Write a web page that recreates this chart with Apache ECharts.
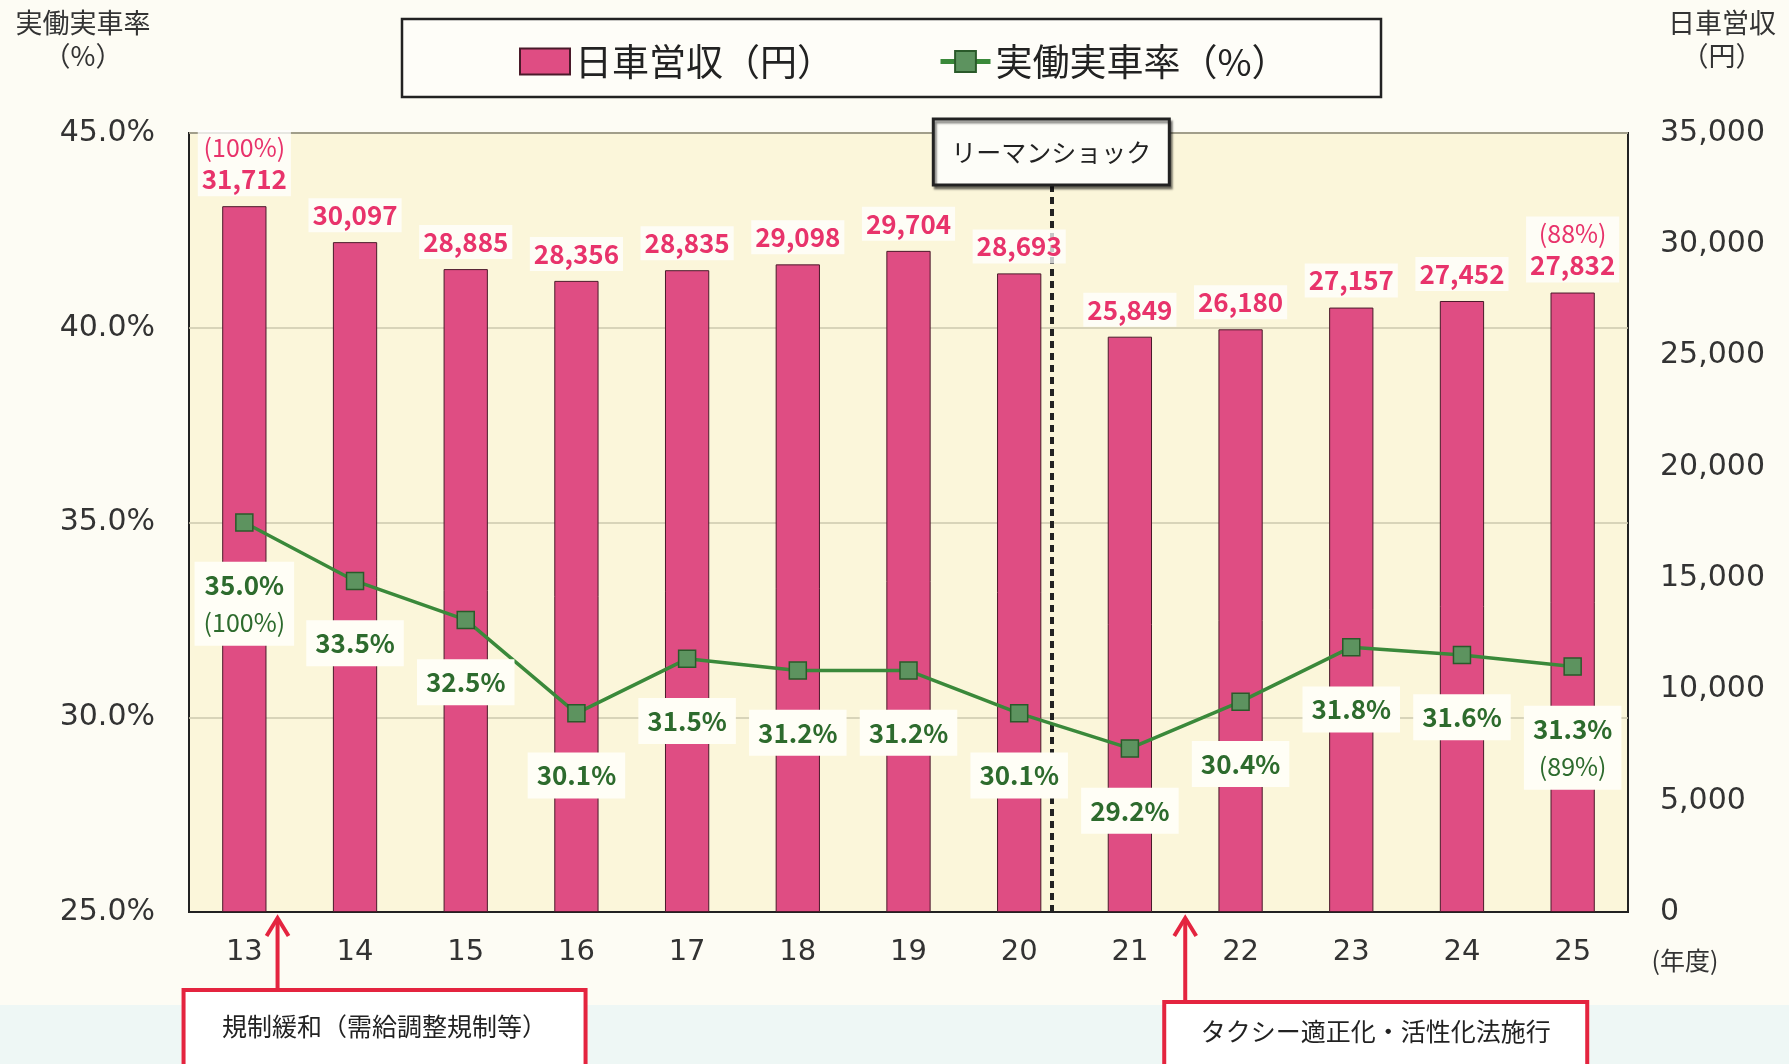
<!DOCTYPE html>
<html><head><meta charset="utf-8">
<script src="https://cdn.jsdelivr.net/npm/echarts@6/dist/echarts.min.js"></script>
<style>html,body{margin:0;padding:0;background:#fdfcf4;}#c{width:1789px;height:1064px;}</style>
</head><body><div id="c"></div>
<script>
// ---- data ----
const years = ['13','14','15','16','17','18','19','20','21','22','23','24','25'];
const revenue = [31712, 30097, 28885, 28356, 28835, 29098, 29704, 28693, 25849, 26180, 27157, 27452, 27832];
const revenueNotes = ['(100%)', '', '', '', '', '', '', '', '', '', '', '', '(88%)'];
const occupancy = [35.0, 33.5, 32.5, 30.1, 31.5, 31.2, 31.2, 30.1, 29.2, 30.4, 31.8, 31.6, 31.3];
const occupancyNotes = ['(100%)', '', '', '', '', '', '', '', '', '', '', '', '(89%)'];
const leftTicks = {min: 25, max: 45, interval: 5};
const rightTicks = {min: 0, max: 35000, interval: 5000};
const seriesNames = ['日車営収（円）', '実働実車率（%）'];
const leftTitle = '実働実車率\n（%）';
const rightTitle = '日車営収\n（円）';
const xUnit = '(年度)';
const lehmanLabel = 'リーマンショック';
const lehmanAt = 7.79;           // position on category index scale (0..13)
const notes = [
  {text: '規制緩和（需給調整規制等）', at: 0.8},
  {text: 'タクシー適正化・活性化法施行', at: 9.0}
];

const FONT = '"Noto Sans CJK JP", "Noto Sans", sans-serif';
const NUMFONT = '"DejaVu Sans", sans-serif';
const PINK = '#e8336b';
const GREEN = '#2d6b2d';

const chart = echarts.init(document.getElementById('c'), null, {renderer: 'canvas'});

const option = {
  backgroundColor: '#fdfcf4',
  textStyle: {fontFamily: FONT},
  animation: false,
  grid: {left: 189, right: 161, top: 133, bottom: 152, show: true,
         backgroundColor: '#fbf6da', borderColor: '#222', borderWidth: 2},
  legend: {
    data: [{name: seriesNames[0], icon: 'rect'}, {name: seriesNames[1], lineStyle: {width: 5}}],
    left: 514, top: 38, itemWidth: 50, itemHeight: 26, itemGap: 104,
    textStyle: {fontSize: 37, color: '#222', fontFamily: FONT}
  },
  xAxis: [{
    type: 'category', data: years,
    axisLine: {lineStyle: {color: '#222', width: 2}},
    axisTick: {inside: true, length: 7, lineStyle: {color: '#222', width: 1.5}},
    axisLabel: {fontSize: 29, color: '#333', margin: 26, fontFamily: NUMFONT}
  }, {
    type: 'value', min: 0, max: years.length, show: false
  }],
  yAxis: [{
    type: 'value', min: leftTicks.min, max: leftTicks.max, interval: leftTicks.interval,
    axisLine: {show: false}, axisTick: {show: false},
    axisLabel: {fontSize: 30, color: '#333', margin: 34, formatter: v => v.toFixed(1) + '%', fontFamily: NUMFONT},
    splitLine: {lineStyle: {color: '#cdc8ae', width: 1.5}}
  }, {
    type: 'value', min: rightTicks.min, max: rightTicks.max, interval: rightTicks.interval,
    axisLine: {show: false}, axisTick: {show: false}, splitLine: {show: false},
    axisLabel: {fontSize: 30, color: '#333', margin: 32, formatter: v => v.toLocaleString('en-US'), fontFamily: NUMFONT}
  }],
  series: [{
    name: seriesNames[0], type: 'bar', yAxisIndex: 1, barWidth: '40%', z: 3,
    data: revenue,
    itemStyle: {color: '#df4d83', borderColor: '#4a1a2a', borderWidth: 1},
    label: {
      show: true, position: 'top', distance: 10,
      backgroundColor: 'rgba(255,255,255,0.75)', padding: [1, 4],
      formatter: p => (revenueNotes[p.dataIndex] ? '{n|' + revenueNotes[p.dataIndex] + '}\n' : '') + '{v|' + p.value.toLocaleString('en-US') + '}',
      rich: {
        v: {fontSize: 26, fontWeight: 'bold', color: PINK, fontFamily: FONT, lineHeight: 32},
        n: {fontSize: 25, color: PINK, fontFamily: FONT, lineHeight: 32}
      }
    }
  }, {
    name: seriesNames[1], type: 'line', yAxisIndex: 0,
    data: occupancy,
    lineStyle: {color: '#3a893a', width: 3.5},
    symbol: 'rect', symbolSize: 17,
    itemStyle: {color: '#5d935f', borderColor: '#2a5a2a', borderWidth: 1.5},
    label: {
      show: true, position: 'bottom', distance: 30,
      backgroundColor: '#fffef6', padding: [4, 9],
      formatter: p => '{v|' + p.value.toFixed(1) + '%}' + (occupancyNotes[p.dataIndex] ? '\n{n|' + occupancyNotes[p.dataIndex] + '}' : ''),
      rich: {
        v: {fontSize: 26, fontWeight: 'bold', color: GREEN, fontFamily: FONT, lineHeight: 38},
        n: {fontSize: 25, color: GREEN, fontFamily: FONT, lineHeight: 38}
      }
    },
    z: 5
  }, {
    type: 'line', xAxisIndex: 1, yAxisIndex: 0, data: [], silent: true, z: 1,
    markLine: {
      symbol: 'none', silent: true, label: {show: false}, z: 1,
      lineStyle: {type: [7, 5], color: '#222', width: 4},
      data: [{xAxis: lehmanAt}]
    }
  }]
};
chart.setOption(option);

// ---- annotations (positions derived from the axes) ----
const axisY = chart.convertToPixel({yAxisIndex: 0}, leftTicks.min);
const plotTop = chart.convertToPixel({yAxisIndex: 0}, leftTicks.max);
const lx = chart.convertToPixel({xAxisIndex: 1}, lehmanAt);
const RED = '#e4243f';
const g = [];
// pale band at bottom
g.push({type: 'rect', shape: {x: 0, y: 1005, width: 1789, height: 59}, style: {fill: '#eef7f5'}, z: -1});
// axis titles
g.push({type: 'text', x: 83, y: 6, style: {text: leftTitle, fontSize: 27, fill: '#333', align: 'center', lineHeight: 33, fontFamily: FONT}});
g.push({type: 'text', x: 1722, y: 6, style: {text: rightTitle, fontSize: 27, fill: '#333', align: 'center', lineHeight: 33, fontFamily: FONT}});
g.push({type: 'text', x: 1685, y: axisY + 48, style: {text: xUnit, fontSize: 25, fill: '#333', align: 'center', verticalAlign: 'middle', fontFamily: FONT}});
// legend frame
g.push({type: 'rect', shape: {x: 402, y: 19, width: 979, height: 78}, style: {fill: 'rgba(255,255,255,0.35)', stroke: '#222', lineWidth: 2.5}, z: -1});
// Lehman box
g.push({type: 'rect', shape: {x: lx - 118, y: plotTop - 14, width: 236, height: 66},
        style: {fill: '#fdfdf8', stroke: '#222', lineWidth: 3, shadowColor: 'rgba(0,0,0,0.45)', shadowOffsetX: 2, shadowOffsetY: 3, shadowBlur: 2}, z: 20});
g.push({type: 'text', x: lx, y: plotTop + 19, style: {text: lehmanLabel, fontSize: 25, fill: '#222', align: 'center', verticalAlign: 'middle', fontFamily: FONT}, z: 21});
// notes with arrows
const boxSpecs = [{dx: -94, w: 402, top: 990, ty: 36}, {dx: -21, w: 423, top: 1002, ty: 29}];
notes.forEach((n, i) => {
  const ax = chart.convertToPixel({xAxisIndex: 1}, n.at);
  const b = boxSpecs[i];
  g.push({type: 'line', shape: {x1: ax, y1: b.top, x2: ax, y2: axisY + 6}, style: {stroke: RED, lineWidth: 4}, z: 10});
  g.push({type: 'polyline', shape: {points: [[ax - 11, axisY + 24], [ax, axisY + 6], [ax + 11, axisY + 24]]}, style: {stroke: RED, lineWidth: 4, fill: null}, z: 10});
  g.push({type: 'rect', shape: {x: ax + b.dx, y: b.top, width: b.w, height: 90}, style: {fill: '#ffffff', stroke: RED, lineWidth: 4}, z: 10});
  g.push({type: 'text', x: ax + b.dx + b.w / 2, y: b.top + b.ty, style: {text: n.text, fontSize: 25, fill: '#222', align: 'center', verticalAlign: 'middle', fontFamily: FONT}, z: 11});
});
chart.setOption({graphic: {elements: g}});
</script>
</body></html>
